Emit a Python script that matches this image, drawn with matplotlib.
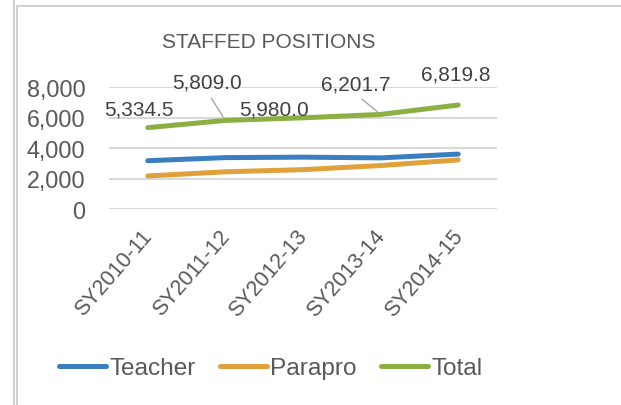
import matplotlib.pyplot as plt
from matplotlib.lines import Line2D
from matplotlib.patches import Rectangle
import matplotlib.transforms as mtransforms

plt.rcParams['font.family'] = ['Liberation Sans', 'DejaVu Sans']

years = ['SY2010-11', 'SY2011-12', 'SY2012-13', 'SY2013-14', 'SY2014-15']
teacher = [3167, 3369, 3400, 3352, 3600]
parapro = [2167.5, 2440, 2580, 2849.7, 3219.8]
total = [5334.5, 5809.0, 5980.0, 6201.7, 6819.8]
yticks = [0, 2000, 4000, 6000, 8000]

# label offsets in pixels from each total point, and whether a leader line is drawn
label_offsets = [(-9, 19), (-18, 38), (-29, 9), (-25, 30), (-2, 31)]
leaders = [False, True, False, True, False]

TXT = '#595959'
W, H = 621, 406

fig = plt.figure(figsize=(W / 100, H / 100), dpi=100)
ax = fig.add_axes([109 / W, 1 - 210 / H, 388 / W, 122 / H])

# chart frame borders
fig.add_artist(Line2D([14 / W, 14 / W], [0, 1], color='#d0d0d0', lw=1.5))
fig.add_artist(Rectangle((17 / W, -0.1), 1.2, 1 - 7 / H + 0.1, fill=False,
                         edgecolor='#d0d0d0', lw=1.5, transform=fig.transFigure))

x = range(1, len(years) + 1)
ax.plot(x, teacher, color='#3a7ebf', lw=3.6, solid_capstyle='round', label='Teacher')
ax.plot(x, parapro, color='#e0a03a', lw=3.6, solid_capstyle='round', label='Parapro')
ax.plot(x, total, color='#8caf44', lw=3.6, solid_capstyle='round', label='Total')

for xi, v, off, lead in zip(x, total, label_offsets, leaders):
    kw = {}
    if lead:
        kw['arrowprops'] = dict(arrowstyle='-', color='#a6a6a6', lw=1,
                                relpos=(0.5, 0), shrinkA=3, shrinkB=3)
    ax.annotate(f'{v:,.1f}', (xi, v), xytext=off, textcoords='offset pixels',
                ha='center', va='center', fontsize=15, color='#404040', **kw)

ax.set_xlim(0.5, 5.5)
ax.set_ylim(0, 8000)
ax.set_yticks(yticks)
ax.set_yticklabels([f'{t:,}' for t in yticks])
ax.set_xticks(list(x))
ax.set_xticklabels(years, rotation=49, ha='right', va='center', rotation_mode='anchor')
ax.tick_params(axis='y', length=0, pad=17, labelsize=16.8, labelcolor=TXT)
ax.tick_params(axis='x', length=0, pad=17, labelsize=15.5, labelcolor=TXT)
shift = mtransforms.ScaledTranslation(1 / 100, 0, fig.dpi_scale_trans)
for lab in ax.get_xticklabels():
    lab.set_transform(lab.get_transform() + shift)

ax.grid(axis='y', color='#d9d9d9', lw=1.5)
ax.set_axisbelow(True)
for s in ax.spines.values():
    s.set_visible(False)

fig.text(268.5 / W, 1 - 43 / H, 'STAFFED POSITIONS', ha='center', va='center',
         fontsize=15, color=TXT)

fig.legend(loc='center', bbox_to_anchor=(271 / W, 1 - 369 / H), ncol=3, frameon=False,
           fontsize=17.6, labelcolor=TXT, handlelength=1.9, handletextpad=0.15,
           columnspacing=1.0)

fig.savefig('out.png', dpi=100)
